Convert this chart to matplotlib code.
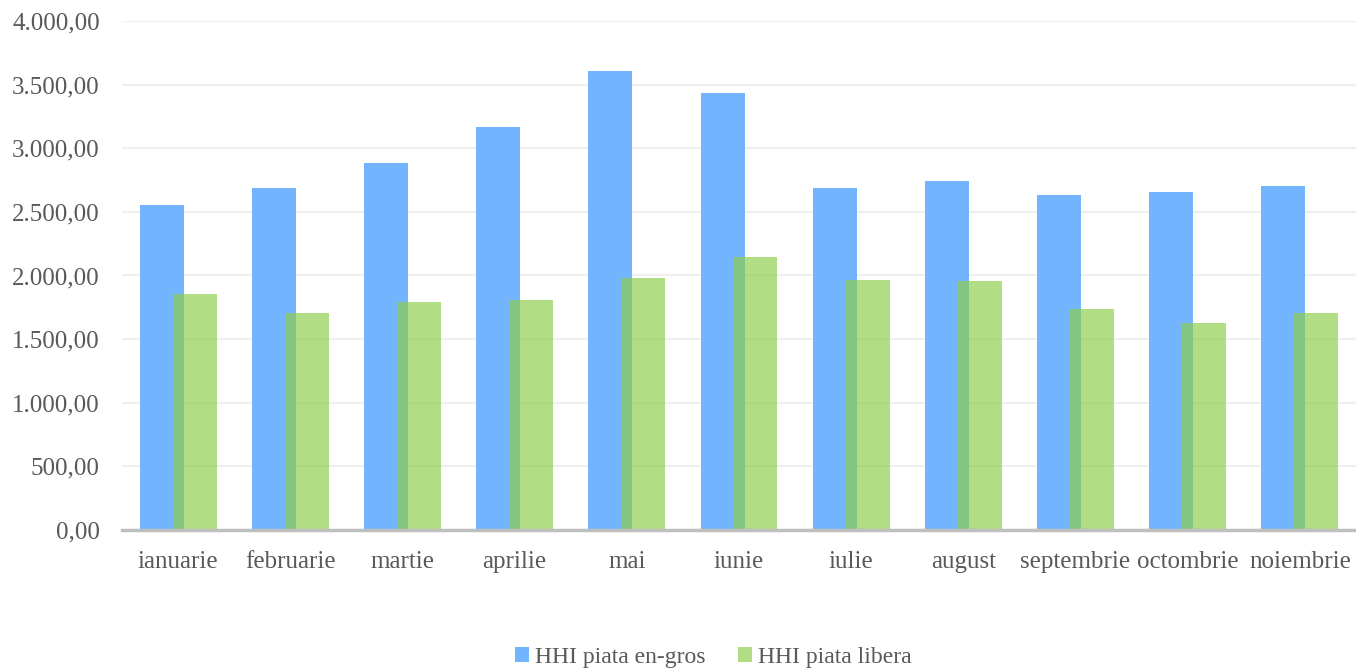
import numpy as np
import matplotlib.pyplot as plt
from matplotlib.ticker import FuncFormatter

luni = ["ianuarie", "februarie", "martie", "aprilie", "mai", "iunie",
        "iulie", "august", "septembrie", "octombrie", "noiembrie"]
hhi_en_gros = [2550, 2688, 2884, 3167, 3607, 3434, 2690, 2743, 2633, 2656, 2703]
hhi_libera = [1855, 1705, 1792, 1807, 1980, 2145, 1965, 1957, 1737, 1627, 1705]

plt.rcParams['font.family'] = 'serif'
plt.rcParams['font.serif'] = ['Liberation Serif', 'DejaVu Serif']
text_color = "#595959"


def fmt_ro(val, pos):
    s = f"{val:,.2f}"
    return s.replace(",", "X").replace(".", ",").replace("X", ".")


fig = plt.figure(figsize=(13.56, 6.7), dpi=100)
ax = fig.add_axes([0.09, 0.209, 0.91, 0.7597])

x = np.arange(len(luni))
width = 0.392
ax.bar(x - 0.147, hhi_en_gros, width, color="#72B5FE",
       label="HHI piata en-gros", zorder=2)
ax.bar(x + 0.147, hhi_libera, width, color="#8DCE4A", alpha=0.68,
       label="HHI piata libera", zorder=3)

ax.set_xlim(-0.5, len(luni) - 0.5)
ax.set_ylim(0, 4000)
ax.set_yticks(np.arange(0, 4001, 500))
ax.yaxis.set_major_formatter(FuncFormatter(fmt_ro))
ax.set_xticks(x)
ax.set_xticklabels(luni)

ax.grid(axis="y", color="#EFEFEF", linewidth=1.5, zorder=0)
ax.set_axisbelow(True)
for side in ["top", "right", "left"]:
    ax.spines[side].set_visible(False)
ax.spines["bottom"].set_color("#BFBFBF")
ax.spines["bottom"].set_linewidth(2.5)
ax.spines["bottom"].set_zorder(4)

ax.tick_params(axis="both", length=0, labelsize=18, colors=text_color)
ax.tick_params(axis="y", pad=16)
ax.tick_params(axis="x", pad=15)

fig.legend(loc="center", bbox_to_anchor=(0.526, 0.019), ncol=2,
           frameon=False, fontsize=17, labelcolor=text_color,
           handlelength=0.6, handleheight=0.6, handletextpad=0.25,
           columnspacing=1.4)

fig.savefig("out.png", dpi=100)
